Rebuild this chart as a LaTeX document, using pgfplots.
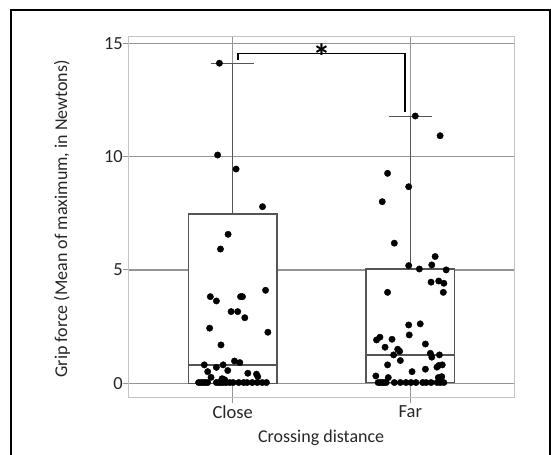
\documentclass[border=0pt]{standalone}
\usepackage{pgfplots}
\pgfplotsset{compat=1.18}
\usepgfplotslibrary{statistics}
\usepackage{fontspec}
\setmainfont{Carlito}

\definecolor{gridgray}{HTML}{959595}
\definecolor{framegray}{HTML}{C4C4C4}
\definecolor{boxgray}{HTML}{555555}

\begin{document}
\begin{tikzpicture}
\begin{axis}[
  scale only axis,
  width=385.7bp, height=360.8bp,
  xmin=0.412, xmax=2.584,
  ymin=-0.63, ymax=15.29,
  xtick={1,2}, xticklabels={Close,Far},
  ytick={0,5,10,15},
  tick pos=left,
  tick align=outside,
  major tick length=5bp,
  tick style={gridgray, line width=1bp},
  axis line style={framegray, line width=1bp},
  xmajorgrids, ymajorgrids,
  grid style={gridgray, line width=1.4bp},
  boxplot/draw direction=y,
  /pgf/number format/assume math mode=true,
  tick label style={font=\fontsize{18.5bp}{21bp}\selectfont, text=black!85},
  yticklabel style={xshift=3bp},
  label style={font=\fontsize{18bp}{21bp}\selectfont, text=black!85},
  xlabel={Crossing distance},
  ylabel={Grip force (Mean of maximum, in Newtons)},
  xlabel style={at={(axis description cs:0.5,-0.112)}, anchor=center},
  ylabel style={at={(axis description cs:-0.172,0.495)}, anchor=center},
  clip=false,
]
% boxes
\addplot[boxplot prepared={draw position=1, lower whisker=0, lower quartile=0,
  median=0.8, upper quartile=7.47, upper whisker=14.12,
  box extend=0.5, whisker extend=0.245},
  draw=boxgray, fill=white, line width=1.4bp] coordinates {};
\addplot[boxplot prepared={draw position=2, lower whisker=0.03, lower quartile=0.03,
  median=1.25, upper quartile=5.04, upper whisker=11.78,
  box extend=0.5, whisker extend=0.245},
  draw=boxgray, fill=white, line width=1.4bp] coordinates {};

% Close points
\addplot[only marks, mark=*, mark size=3.2bp, black] coordinates {
  (0.925,14.12) (0.915,10.07) (1.019,9.45) (1.168,7.79) (0.974,6.57)
  (0.931,5.92) (1.185,4.10) (0.874,3.82) (0.908,3.63) (1.044,3.82)
  (1.055,3.82) (0.991,3.16) (1.028,3.16) (1.068,2.89) (0.870,2.43)
  (1.198,2.25) (0.934,1.69) (1.010,0.98) (1.040,0.91) (0.840,0.81)
  (0.908,0.70) (0.946,0.81) (0.859,0.51) (0.972,0.56) (1.085,0.44)
  (1.134,0.40) (1.141,0.29) (0.878,0.26) (0.940,0.20) (0.955,0.15)
  (0.808,0.03) (0.821,0.03) (0.833,0.03) (0.846,0.03) (0.859,0.03)
  (0.908,0.03) (0.921,0.03) (0.933,0.03) (0.948,0.03) (0.963,0.03)
  (0.983,0.03) (1.002,0.03) (1.034,0.03) (1.062,0.03) (1.081,0.03)
  (1.110,0.03) (1.138,0.03) (1.166,0.03) (1.190,0.03)
};
% Far points
\addplot[only marks, mark=*, mark size=3.2bp, black] coordinates {
  (2.028,11.79) (2.168,10.92) (1.872,9.26) (1.991,8.67) (1.842,8.01)
  (1.910,6.18) (2.140,5.59) (1.991,5.19) (2.051,5.04) (2.121,5.22)
  (2.202,5.00) (2.117,4.46) (2.160,4.51) (2.189,4.41) (2.186,4.01)
  (1.872,4.01) (1.991,2.57) (2.056,2.62) (1.994,2.13) (1.810,1.91)
  (1.829,2.03) (1.897,1.94) (2.085,1.73) (1.858,1.59) (1.929,1.50)
  (1.940,1.41) (2.113,1.32) (2.121,1.15) (2.164,1.25) (1.906,1.25)
  (1.944,1.00) (1.872,0.81) (2.150,0.71) (2.160,0.78) (2.180,0.81)
  (2.085,0.62) (2.010,0.51) (1.806,0.32) (1.876,0.25) (2.158,0.25)
  (2.177,0.29)
  (1.819,0.03) (1.831,0.03) (1.842,0.03) (1.853,0.03) (1.864,0.03)
  (1.910,0.03) (1.944,0.03) (1.976,0.03) (2.004,0.03) (2.032,0.03)
  (2.070,0.03) (2.089,0.03) (2.117,0.03) (2.151,0.03) (2.169,0.03)
  (2.189,0.03)
};

% significance bracket
\draw[black, line width=1.4bp] (axis cs:1.03,14.26) -- (axis cs:1.03,14.56)
  -- (axis cs:1.97,14.56) -- (axis cs:1.97,11.98);
\node[anchor=north, inner sep=0pt, font=\fontsize{36bp}{38bp}\selectfont\bfseries]
  at (axis cs:1.5,15.0) {*};
\end{axis}
% outer frame
\draw[black, line width=2.5bp] (-117.3bp,-70bp) -- (-117.3bp,387.5bp)
  -- (421.7bp,387.5bp) -- (421.7bp,-70bp);
\pgfresetboundingbox
\useasboundingbox (-128.3bp,-57.5bp) rectangle (422.7bp,397.5bp);
\end{tikzpicture}
\end{document}
